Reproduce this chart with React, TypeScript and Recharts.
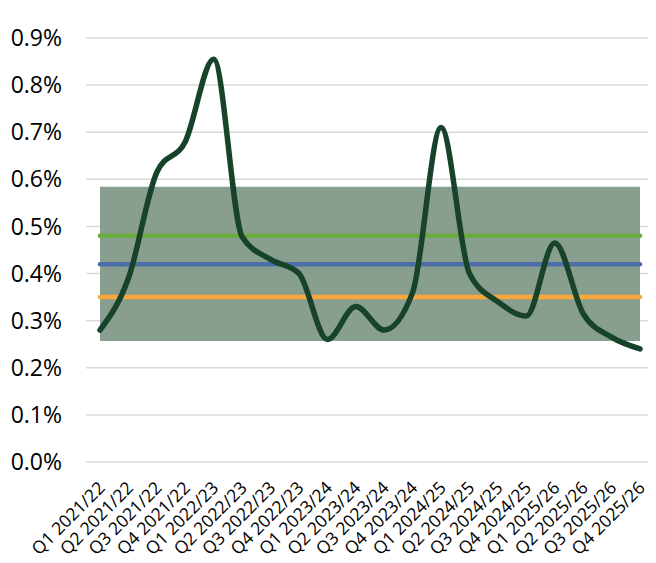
import React from "react";
import {
  ComposedChart,
  Line,
  Area,
  XAxis,
  YAxis,
  CartesianGrid,
} from "recharts";

const quarters = [
  "Q1 2021/22", "Q2 2021/22", "Q3 2021/22", "Q4 2021/22",
  "Q1 2022/23", "Q2 2022/23", "Q3 2022/23", "Q4 2022/23",
  "Q1 2023/24", "Q2 2023/24", "Q3 2023/24", "Q4 2023/24",
  "Q1 2024/25", "Q2 2024/25", "Q3 2024/25", "Q4 2024/25",
  "Q1 2025/26", "Q2 2025/26", "Q3 2025/26", "Q4 2025/26",
];

// quarterly rate, as a fraction
const rate = [
  0.0028, 0.0039, 0.00615, 0.0068,
  0.00855, 0.00478, 0.0043, 0.004,
  0.0026, 0.0033, 0.0028, 0.0036,
  0.0071, 0.004, 0.0034, 0.0031,
  0.00465, 0.00315, 0.00265, 0.0024,
];

const upperLine = 0.0048;
const midLine = 0.0042;
const lowerLine = 0.0035;
const bandLow = 0.00257;
const bandHigh = 0.00584;

const yTicks = [0, 0.001, 0.002, 0.003, 0.004, 0.005, 0.006, 0.007, 0.008, 0.009];

const data = quarters.map((name, i) => ({
  name,
  rate: rate[i],
  upper: upperLine,
  mid: midLine,
  lower: lowerLine,
  band: [bandLow, bandHigh],
}));

const FONT = "'Open Sans', 'Noto Sans', sans-serif";

const QuarterTick = (props: any) => {
  const { x, y, payload } = props;
  const ax = x + 6;
  const ay = y + 19;
  return (
    <text
      x={ax}
      y={ay}
      transform={`rotate(-45, ${ax}, ${ay})`}
      textAnchor="end"
      fontSize={17.5}
      fontFamily={FONT}
      fill="#000"
    >
      {payload.value}
    </text>
  );
};

export default function App() {
  return (
    <ComposedChart
      width={648}
      height={555}
      data={data}
      margin={{ top: 30, right: 2, left: 0, bottom: 0 }}
    >
      <CartesianGrid vertical={false} stroke="#d9d9d9" strokeWidth={1.5} />
      <XAxis
        dataKey="name"
        interval={0}
        height={101}
        padding={{ left: 14, right: 14 }}
        axisLine={false}
        tickLine={false}
        tick={<QuarterTick />}
      />
      <YAxis
        width={78}
        domain={[0, 0.009]}
        ticks={yTicks}
        axisLine={false}
        tickLine={false}
        tickMargin={18}
        tickFormatter={(v: number) => `${(v * 100).toFixed(1)}%`}
        tick={{ fontSize: 23, fill: "#000", fontFamily: FONT }}
      />
      <Area
        type="linear"
        dataKey="band"
        stroke="none"
        fill="#889e8e"
        fillOpacity={1}
        isAnimationActive={false}
        dot={false}
        activeDot={false}
      />
      <Line
        type="linear"
        dataKey="upper"
        stroke="#6aaa3f"
        strokeWidth={4.5}
        strokeLinecap="round"
        dot={false}
        activeDot={false}
        isAnimationActive={false}
      />
      <Line
        type="linear"
        dataKey="mid"
        stroke="#4c6ea8"
        strokeWidth={4.5}
        strokeLinecap="round"
        dot={false}
        activeDot={false}
        isAnimationActive={false}
      />
      <Line
        type="linear"
        dataKey="lower"
        stroke="#f9a63a"
        strokeWidth={4.5}
        strokeLinecap="round"
        dot={false}
        activeDot={false}
        isAnimationActive={false}
      />
      <Line
        type="monotone"
        dataKey="rate"
        stroke="#17432a"
        strokeWidth={5.5}
        strokeLinecap="round"
        dot={false}
        activeDot={false}
        isAnimationActive={false}
      />
    </ComposedChart>
  );
}
